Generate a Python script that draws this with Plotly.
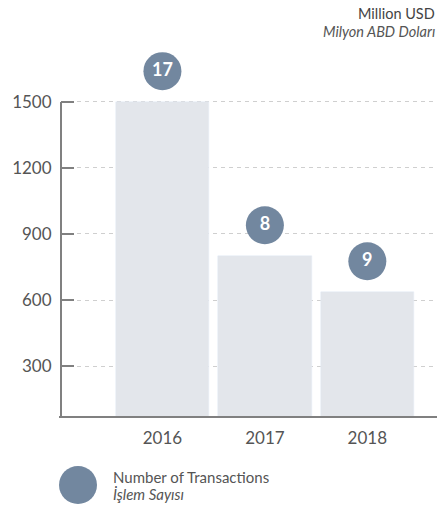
import plotly.graph_objects as go

years = ["2016", "2017", "2018"]
amounts = [1500, 800, 636]          # Million USD
transactions = [17, 8, 9]           # Number of transactions
y_ticks = [300, 600, 900, 1200, 1500]

BAR = "#e3e6eb"
CIRCLE = "#72879f"
TXT = "#555555"
AXIS = "#808080"
FONT = "Lato"

Y_MIN, Y_TOP = 73, 1736
PLOT_TOP, PLOT_BOTTOM = 50, 416      # pixel rows of plot area
PH = PLOT_BOTTOM - PLOT_TOP


def py(px):
    """pixel row -> paper y"""
    return (PLOT_BOTTOM - px) / PH


def pxx(px):
    return (px - 61) / 376


fig = go.Figure()
fig.add_trace(go.Bar(
    x=years, y=amounts, marker_color=BAR, width=0.91,
    hoverinfo="skip", showlegend=False,
))
offset = 140
fig.add_trace(go.Scatter(
    x=years, y=[a + offset for a in amounts],
    mode="markers+text",
    marker=dict(size=38, color=CIRCLE, line=dict(width=0)),
    text=[str(t) for t in transactions],
    textposition="middle center",
    textfont=dict(family=FONT, size=18, color="white", weight="bold"),
    cliponaxis=False, showlegend=False, hoverinfo="skip",
))

fig.update_layout(
    width=437, height=509,
    margin=dict(l=61, r=0, t=PLOT_TOP, b=509 - PLOT_BOTTOM),
    paper_bgcolor="white", plot_bgcolor="white",
    font=dict(family=FONT, color=TXT),
    xaxis=dict(
        type="category", range=[-0.99, 2.68],
        showgrid=False, showline=True, linecolor=AXIS, linewidth=2,
        ticks="", tickfont=dict(size=17, color=TXT),
        ticklabelstandoff=6,
    ),
    yaxis=dict(
        range=[Y_MIN, Y_TOP], tickvals=y_ticks,
        showgrid=True, gridcolor="#cfcfcf", griddash="4px,4px", gridwidth=1,
        showline=True, linecolor="rgba(0,0,0,0)", linewidth=2,
        ticks="inside", ticklen=13, tickcolor=AXIS, tickwidth=2,
        tickfont=dict(size=17, color=TXT), zeroline=False,
        ticklabelstandoff=4, layer="above traces",
    ),
    bargap=0,
)

# y axis line only up to the top tick
fig.add_shape(type="line", xref="paper", yref="y", x0=0, x1=0,
              y0=Y_MIN, y1=max(y_ticks), line=dict(color=AXIS, width=2), layer="above")

# legend circle
fig.add_shape(type="circle", xref="paper", yref="paper",
              xsizemode="pixel", ysizemode="pixel",
              xanchor=pxx(78), yanchor=py(485),
              x0=-19, x1=19, y0=-19, y1=19,
              fillcolor=CIRCLE, line=dict(width=0))

fig.add_annotation(text="Number of Transactions", xref="paper", yref="paper",
                   x=pxx(111), y=py(477), xanchor="left", yanchor="middle",
                   showarrow=False, font=dict(size=15, color=TXT, family=FONT))
fig.add_annotation(text="<i>İşlem Sayısı</i>", xref="paper", yref="paper",
                   x=pxx(111), y=py(494), xanchor="left", yanchor="middle",
                   showarrow=False, font=dict(size=15, color=TXT, family=FONT))

fig.add_annotation(text="Million USD", xref="paper", yref="paper",
                   x=1, y=py(14), xanchor="right", yanchor="middle", xshift=0,
                   showarrow=False, font=dict(size=14.5, color="#444444", family=FONT))
fig.add_annotation(text="<i>Milyon ABD Doları</i>", xref="paper", yref="paper",
                   x=1, y=py(32), xanchor="right", yanchor="middle", xshift=0,
                   showarrow=False, font=dict(size=14.5, color="#555555", family=FONT))

fig.write_html("out.html", config={"displayModeBar": False},
               post_script="document.body.style.margin='0';document.body.style.overflow='hidden';")
